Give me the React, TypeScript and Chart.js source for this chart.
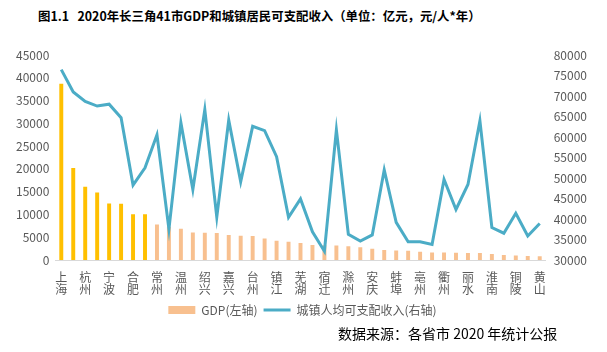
import React, { useEffect, useRef } from "react";
import { Chart, registerables } from "chart.js";

Chart.register(...registerables);

const cities = [
  "上海", "苏州", "杭州", "南京", "宁波", "无锡", "合肥", "南通", "常州", "徐州",
  "温州", "扬州", "绍兴", "盐城", "嘉兴", "泰州", "台州", "金华", "镇江", "淮安",
  "芜湖", "连云港", "宿迁", "湖州", "滁州", "阜阳", "安庆", "马鞍山", "蚌埠", "宿州",
  "亳州", "六安", "衢州", "宣城", "丽水", "舟山", "淮南", "淮北", "铜陵", "池州", "黄山",
];

const gdp = [
  38701, 20171, 16106, 14818, 12409, 12370, 10046, 10036, 7805, 7320,
  6871, 6048, 6001, 5953, 5510, 5313, 5263, 4704, 4220, 4025,
  3753, 3277, 3262, 3201, 3032, 2805, 2468, 2187, 2083, 2045,
  1806, 1669, 1639, 1608, 1540, 1512, 1337, 1119, 1004, 868, 850,
];

const income = [
  76437, 70966, 68666, 67553, 68008, 64714, 48283, 52484, 60529, 37523,
  63481, 47202, 66694, 40434, 64124, 49103, 62598, 61545, 55213, 40418,
  44890, 36860, 32150, 61743, 36270, 34630, 36120, 51980, 39170, 34460,
  34460, 33800, 49660, 42320, 48420, 63960, 37930, 36530, 41400, 35870, 38920,
];

const gdpTicks = { min: 0, max: 45000, step: 5000 };
const incomeTicks = { min: 30000, max: 80000, step: 5000 };

const title = "图1.1\u00a0\u00a0 2020年长三角41市GDP和城镇居民可支配收入（单位：亿元，元/人*年）";
const source = "数据来源：各省市 2020 年统计公报";
const gdpLabel = "GDP(左轴)";
const incomeLabel = "城镇人均可支配收入(右轴)";

const YELLOW = "#FFC000";
const PEACH = "#F8C08F";
const TEAL = "#4BACC6";
const FONT = '"Noto Sans CJK SC", "Noto Sans", sans-serif';
const GREY = "#595959";

export default function App() {
  const ref = useRef<HTMLCanvasElement | null>(null);

  useEffect(() => {
    if (!ref.current) return;
    const chart = new Chart(ref.current, {
      data: {
        labels: cities,
        datasets: [
          {
            type: "line",
            label: incomeLabel,
            data: income,
            yAxisID: "y1",
            borderColor: TEAL,
            backgroundColor: TEAL,
            borderWidth: 3,
            pointRadius: 0,
            tension: 0,
            order: 0,
          },
          {
            type: "bar",
            label: gdpLabel,
            data: gdp,
            yAxisID: "y",
            backgroundColor: gdp.map((v) => (v >= 10000 ? YELLOW : PEACH)),
            barPercentage: 0.33,
            categoryPercentage: 1,
            order: 1,
          },
        ],
      },
      options: {
        animation: false,
        responsive: false,
        maintainAspectRatio: false,
        layout: { padding: { top: 55, left: 10, right: 12, bottom: 26 } },
        plugins: {
          tooltip: { enabled: false },
          legend: {
            position: "bottom",
            labels: {
              font: { family: FONT, size: 12 },
              color: GREY,
              usePointStyle: true,
              pointStyleWidth: 27,
              boxHeight: 8,
              padding: 6,
              generateLabels: () => [
                {
                  text: gdpLabel,
                  fillStyle: PEACH,
                  strokeStyle: PEACH,
                  lineWidth: 0,
                  pointStyle: "rect",
                  datasetIndex: 1,
                  fontColor: GREY,
                },
                {
                  text: incomeLabel,
                  fillStyle: TEAL,
                  strokeStyle: TEAL,
                  lineWidth: 3,
                  pointStyle: "line",
                  datasetIndex: 0,
                  fontColor: GREY,
                },
              ],
            },
          },
        },
        scales: {
          x: {
            grid: { display: false },
            border: { display: true, color: "#D9D9D9", width: 1 },
            ticks: {
              autoSkip: false,
              maxRotation: 0,
              minRotation: 0,
              padding: 3,
              color: GREY,
              font: { family: FONT, size: 12, lineHeight: 1.0 },
              callback: (_v: any, i: number) => (i % 2 === 0 ? cities[i].split("") : ""),
            },
          },
          y: {
            position: "left",
            min: gdpTicks.min,
            max: gdpTicks.max,
            grid: { display: false, drawTicks: false },
            border: { display: false },
            ticks: {
              stepSize: gdpTicks.step,
              padding: 6,
              color: GREY,
              font: { family: FONT, size: 12 },
              callback: (v: any) => String(v),
            },
          },
          y1: {
            position: "right",
            min: incomeTicks.min,
            max: incomeTicks.max,
            grid: { display: false, drawTicks: false },
            border: { display: false },
            ticks: {
              stepSize: incomeTicks.step,
              padding: 8,
              color: GREY,
              font: { family: FONT, size: 12 },
              callback: (v: any) => String(v),
            },
          },
        },
      },
    } as any);
    return () => chart.destroy();
  }, []);

  return (
    <div
      style={{
        position: "fixed",
        left: 0,
        top: 0,
        width: 607,
        height: 352,
        background: "#fff",
        overflow: "hidden",
      }}
    >
      <div
        style={{
          position: "absolute",
          left: 38,
          top: 6,
          fontFamily: FONT,
          fontWeight: 700,
          fontSize: 12.4,
          color: "#000",
          whiteSpace: "nowrap",
          lineHeight: "20px",
        }}
      >
        {title}
      </div>
      <canvas
        ref={ref}
        width={607}
        height={352}
        style={{ position: "absolute", left: 0, top: 0, width: 607, height: 352 }}
      />
      <div
        style={{
          position: "absolute",
          left: 338,
          top: 323,
          fontFamily: FONT,
          fontSize: 14,
          color: "#000",
          whiteSpace: "nowrap",
          lineHeight: "20px",
        }}
      >
        {source}
      </div>
    </div>
  );
}
